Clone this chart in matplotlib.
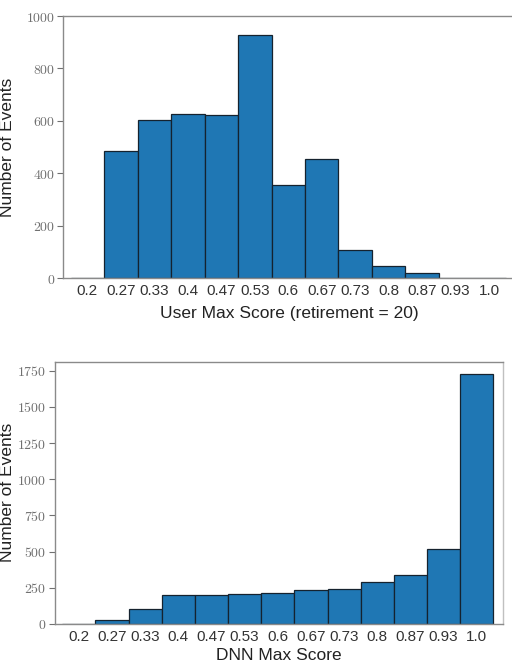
import matplotlib.pyplot as plt
import numpy as np

plt.rcParams['font.family'] = ['Liberation Sans', 'DejaVu Sans']
plt.rcParams['mathtext.fontset'] = 'cm'

# score bins shown under each bar
score_labels = ['0.2', '0.27', '0.33', '0.4', '0.47', '0.53', '0.6',
                '0.67', '0.73', '0.8', '0.87', '0.93', '1.0']

# event counts per bin
user_counts = [0, 487, 602, 627, 624, 929, 357, 454, 108, 47, 19, 0, 0]
dnn_counts = [0, 25, 101, 198, 198, 205, 212, 233, 244, 290, 336, 520, 1726]

bar_color = '#1f77b4'
edge_color = '#15222e'
spine_color = '#8a8a8a'


def draw_hist(ax, counts, xlabel, yticks, ytop, right_spine, ylab_x, xpad):
    pos = np.arange(len(score_labels))
    ax.bar(pos, counts, width=1.0, color=bar_color, edgecolor=edge_color,
           linewidth=0.9)
    ax.set_xlim(-0.72, 12.8)
    ax.set_ylim(0, ytop)
    ax.set_xticks(pos)
    ax.set_xticklabels(score_labels, fontsize=11, color='#333333')
    ax.tick_params(axis='x', length=0, pad=4)
    ax.set_yticks(yticks)
    ax.set_yticklabels(['$%d$' % v for v in yticks], fontsize=10,
                       color='#707070')
    ax.tick_params(axis='y', length=4, width=0.8, color='#707070', pad=2)
    for side in ['top', 'bottom', 'left', 'right']:
        ax.spines[side].set_color(spine_color)
        ax.spines[side].set_linewidth(1.0)
    ax.spines['right'].set_visible(right_spine)
    if right_spine:
        ax.spines['right'].set_color('#c0c0c0')
    ax.set_xlabel(xlabel, fontsize=12.5, color='#222222', labelpad=xpad)
    ax.set_ylabel('Number of Events', fontsize=12.5, color='#222222')
    ax.yaxis.set_label_coords(ylab_x, 0.5)


fig = plt.figure(figsize=(5.12, 6.65), dpi=100)
ax1 = fig.add_axes([0.1236, 0.5815, 0.884, 0.3944])
ax2 = fig.add_axes([0.1074, 0.0617, 0.8756, 0.3944])

draw_hist(ax1, user_counts, 'User Max Score (retirement = 20)',
          [0, 200, 400, 600, 800, 1000], 1000, False, -0.107, 6)
draw_hist(ax2, dnn_counts, 'DNN Max Score',
          [0, 250, 500, 750, 1000, 1250, 1500, 1750], 1812, True, -0.089, 3)

fig.savefig('out.png', dpi=100)
